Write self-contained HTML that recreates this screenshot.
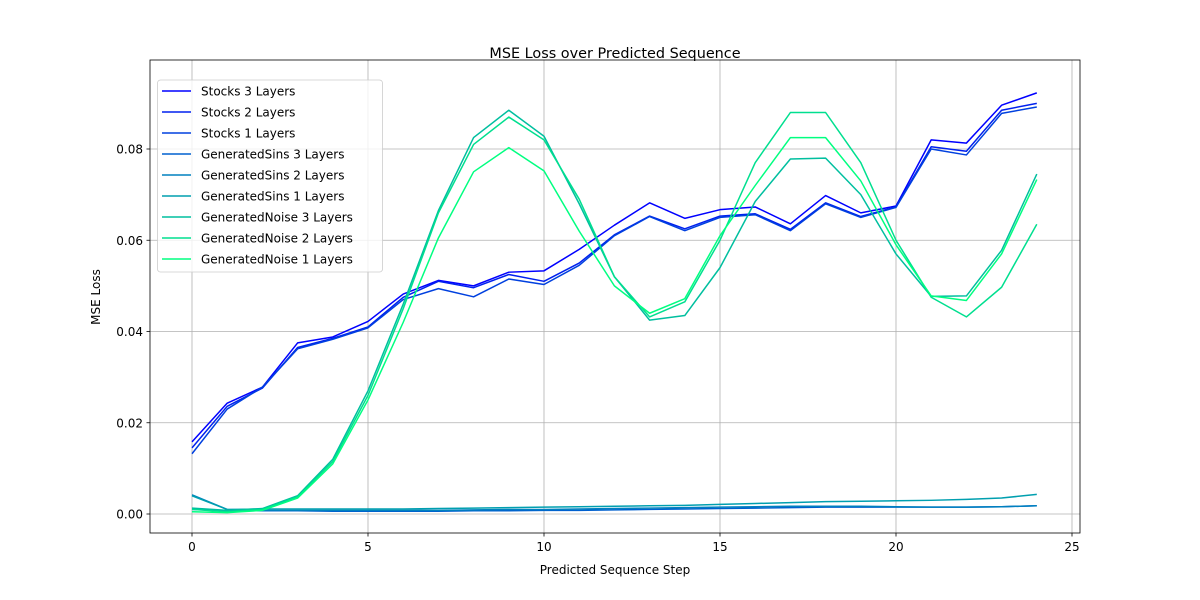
<!DOCTYPE html>
<html><head><meta charset="utf-8"><style>
body{margin:0;background:#fff;}
svg{display:block;font-family:"DejaVu Sans","Liberation Sans",sans-serif;}
</style></head><body>
<svg id="chart" width="1200" height="600" xmlns="http://www.w3.org/2000/svg">
<rect width="1200" height="600" fill="#fff"/>
<g id="grid"></g><g id="series"></g><g id="axes"></g><g id="legend"></g>
</svg>
<script>
const steps=[0,1,2,3,4,5,6,7,8,9,10,11,12,13,14,15,16,17,18,19,20,21,22,23,24];
const seriesNames=["Stocks 3 Layers","Stocks 2 Layers","Stocks 1 Layers","GeneratedSins 3 Layers","GeneratedSins 2 Layers","GeneratedSins 1 Layers","GeneratedNoise 3 Layers","GeneratedNoise 2 Layers","GeneratedNoise 1 Layers"];
const stocks3=[0.0158,0.0243,0.0278,0.0375,0.0388,0.0422,0.0482,0.0512,0.0500,0.0530,0.0533,0.0580,0.0633,0.0682,0.0648,0.0667,0.0673,0.0636,0.0698,0.0660,0.0675,0.0820,0.0813,0.0896,0.0923];
const stocks2=[0.0145,0.0236,0.0276,0.0365,0.0385,0.0410,0.0475,0.0510,0.0496,0.0525,0.0510,0.0550,0.0612,0.0653,0.0625,0.0653,0.0658,0.0624,0.0682,0.0652,0.0673,0.0805,0.0795,0.0885,0.0900];
const stocks1=[0.0132,0.0230,0.0278,0.0362,0.0383,0.0408,0.0470,0.0494,0.0476,0.0515,0.0503,0.0545,0.0610,0.0652,0.0621,0.0650,0.0656,0.0621,0.0680,0.0650,0.0672,0.0800,0.0787,0.0878,0.0892];
const sins3=[0.0010,0.0007,0.0007,0.0007,0.0006,0.0006,0.0006,0.0006,0.0007,0.0007,0.0008,0.0008,0.0009,0.0010,0.0011,0.0012,0.0013,0.0014,0.0015,0.0015,0.0015,0.0015,0.0015,0.0016,0.0018];
const sins2=[0.0042,0.0010,0.0008,0.0008,0.0008,0.0008,0.0008,0.0008,0.0009,0.0010,0.0010,0.0011,0.0012,0.0013,0.0014,0.0015,0.0016,0.0017,0.0017,0.0017,0.0016,0.0015,0.0015,0.0016,0.0018];
const sins1=[0.0040,0.0010,0.0011,0.0011,0.0011,0.0011,0.0011,0.0012,0.0013,0.0014,0.0015,0.0016,0.0017,0.0018,0.0019,0.0021,0.0023,0.0025,0.0027,0.0028,0.0029,0.0030,0.0032,0.0035,0.0043];
const noise3=[0.0013,0.0008,0.0012,0.0040,0.0120,0.0270,0.0460,0.0665,0.0825,0.0885,0.0828,0.0680,0.0520,0.0425,0.0435,0.0540,0.0685,0.0778,0.0780,0.0700,0.0570,0.0477,0.0478,0.0578,0.0745];
const noise2=[0.0010,0.0005,0.0010,0.0038,0.0115,0.0260,0.0450,0.0660,0.0810,0.0870,0.0820,0.0690,0.0520,0.0432,0.0465,0.0600,0.0770,0.0880,0.0880,0.0770,0.0600,0.0475,0.0432,0.0497,0.0635];
const noise1=[0.0005,0.0003,0.0008,0.0035,0.0110,0.0250,0.0420,0.0605,0.0750,0.0803,0.0752,0.0620,0.0500,0.0440,0.0472,0.0610,0.0720,0.0825,0.0825,0.0730,0.0590,0.0478,0.0468,0.0570,0.0733];
const xTicks=[0,5,10,15,20,25];
const yTicks=[0,0.02,0.04,0.06,0.08];
const yTickLabels=["0.00","0.02","0.04","0.06","0.08"];

const allSeries=[stocks3,stocks2,stocks1,sins3,sins2,sins1,noise3,noise2,noise1];
const colors=["#0000ff","#0020ef","#0040df","#0060cf","#0080bf","#009faf","#00bf9f","#00df8f","#00ff80"];
const L=150,R=1080,T=60,B=533;
function xs(v){return 192+(v-0)*35.2;}
function ys(v){return 514-v*4562.5;}
const NS="http://www.w3.org/2000/svg";
function mk(tag,attrs,parent){const e=document.createElementNS(NS,tag);for(const k in attrs)e.setAttribute(k,attrs[k]);parent.appendChild(e);return e;}
const grid=document.getElementById('grid'),ser=document.getElementById('series'),axes=document.getElementById('axes'),leg=document.getElementById('legend');
xTicks.forEach(t=>{
  const g=mk('line',{x1:xs(t),x2:xs(t),y1:T,y2:B,stroke:'#b0b0b0','stroke-width':0.8},grid);
  
  
  mk('line',{x1:xs(t),x2:xs(t),y1:B,y2:B+3.5,stroke:'#000','stroke-width':0.8},axes);
  const tx=mk('text',{x:xs(t),y:B+18,'font-size':12,'text-anchor':'middle',fill:'#000'},axes);
  tx.textContent=t;
  
  
});
yTicks.forEach((t,i)=>{
  const g=mk('line',{x1:L,x2:R,y1:ys(t),y2:ys(t),stroke:'#b0b0b0','stroke-width':0.8},grid);
  
  
  mk('line',{x1:L-3.5,x2:L,y1:ys(t),y2:ys(t),stroke:'#000','stroke-width':0.8},axes);
  const tx=mk('text',{x:L-7,y:ys(t)+4.5,'font-size':12,'text-anchor':'end',fill:'#000'},axes);
  tx.textContent=yTickLabels[i];
  
  
});
allSeries.forEach((s,i)=>{
  const p=mk('polyline',{points:s.map((v,j)=>xs(steps[j])+','+ys(v)).join(' '),fill:'none',stroke:colors[i],'stroke-width':1.5,'stroke-linejoin':'round'},ser);
  
  
});
const fr=mk('rect',{x:L,y:T,width:R-L,height:B-T,fill:'none',stroke:'#000','stroke-width':0.8},axes);


const title=mk('text',{x:615,y:64-6,'font-size':14.4,'text-anchor':'middle'},axes);
title.textContent='MSE Loss over Predicted Sequence';


const xl=mk('text',{x:615,y:574,'font-size':12,'text-anchor':'middle'},axes);
xl.textContent='Predicted Sequence Step';


const yl=mk('text',{x:100,y:297,'font-size':12,'text-anchor':'middle',transform:'rotate(-90 100 297)'},axes);
yl.textContent='MSE Loss';


const box=mk('rect',{x:157.5,y:80,width:225,height:192,rx:3,fill:'#fff','fill-opacity':0.8,stroke:'#ccc','stroke-width':0.8},leg);


seriesNames.forEach((n,i)=>{
  const y=91+i*21;
  const ln=mk('line',{x1:162,x2:191,y1:y,y2:y,stroke:colors[i],'stroke-width':1.5},leg);
  
  
  const t=mk('text',{x:201,y:y+4.5,'font-size':12},leg);
  t.textContent=n;
  
  
});
</script>
</body></html>
